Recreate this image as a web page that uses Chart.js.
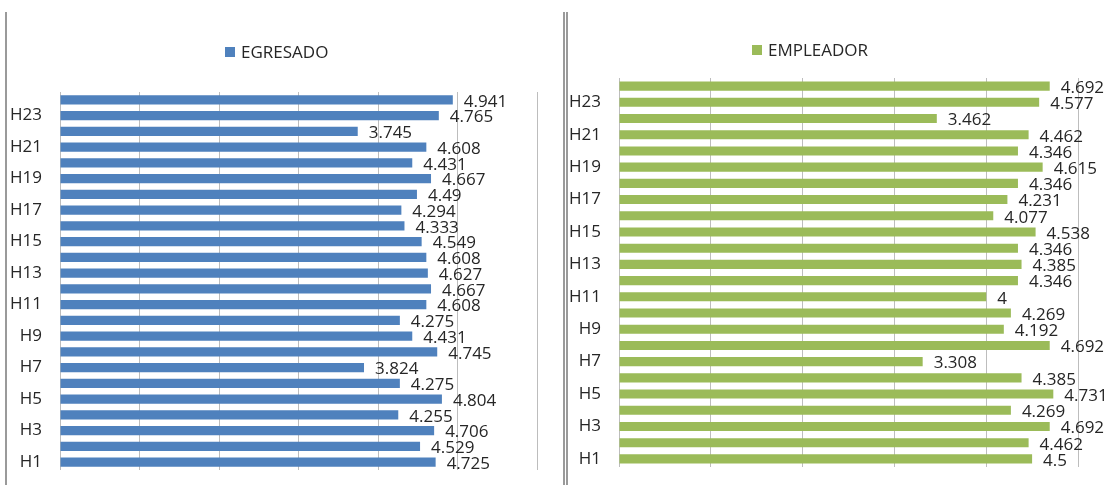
<!DOCTYPE html>
<html>
<head>
<meta charset="utf-8">
<script src="https://cdn.jsdelivr.net/npm/chart.js@4.4.0/dist/chart.umd.min.js"></script>
<style>
  body { margin: 0; background: #fff; width: 1113px; height: 485px; overflow: hidden; position: relative; }
  .frame { position: absolute; top: 12px; bottom: 0; width: 2px; background: #9a9a9a; }
  #egresadoChart { position: absolute; left: 0; top: 0; }
  #empleadorChart { position: absolute; left: 568px; top: 0; }
</style>
</head>
<body>
<div class="frame" style="left:5px"></div>
<div class="frame" style="left:563px"></div>
<div class="frame" style="left:566px"></div>
<canvas id="egresadoChart" width="552" height="485"></canvas>
<canvas id="empleadorChart" width="545" height="485"></canvas>
<script>
const labels = ['H1', 'H2', 'H3', 'H4', 'H5', 'H6', 'H7', 'H8', 'H9', 'H10', 'H11', 'H12',
                'H13', 'H14', 'H15', 'H16', 'H17', 'H18', 'H19', 'H20', 'H21', 'H22', 'H23', 'H24'];

const egresado = [4.725, 4.529, 4.706, 4.255, 4.804, 4.275, 3.824, 4.745, 4.431, 4.275, 4.608, 4.667,
                  4.627, 4.608, 4.549, 4.333, 4.294, 4.49, 4.667, 4.431, 4.608, 3.745, 4.765, 4.941];

const empleador = [4.5, 4.462, 4.692, 4.269, 4.731, 4.385, 3.308, 4.692, 4.192, 4.269, 4, 4.346,
                   4.385, 4.346, 4.538, 4.077, 4.231, 4.346, 4.615, 4.346, 4.462, 3.462, 4.577, 4.692];

const FONT = '"Open Sans", Lato, sans-serif';
const TEXT = '#262626';

// value next to each bar
const valueLabels = {
    id: 'valueLabels',
    afterDatasetsDraw(chart) {
        const ctx = chart.ctx;
        ctx.save();
        ctx.font = '17px ' + FONT;
        ctx.fillStyle = TEXT;
        ctx.textAlign = 'left';
        ctx.textBaseline = 'middle';
        chart.data.datasets.forEach((ds, i) => {
            chart.getDatasetMeta(i).data.forEach((bar, j) => {
                ctx.fillText(String(ds.data[j]), bar.x + 11, bar.y + 2);
            });
        });
        ctx.restore();
    }
};

// small legend above the plot
const topLegend = {
    id: 'topLegend',
    afterDraw(chart, args, opts) {
        const ctx = chart.ctx;
        const ds = chart.data.datasets[0];
        const x = chart.chartArea.left + opts.dx;
        const y = opts.y;
        ctx.save();
        ctx.fillStyle = ds.backgroundColor;
        ctx.fillRect(x, y - 5, 10, 10);
        ctx.font = '17px ' + FONT;
        ctx.fillStyle = TEXT;
        ctx.textBaseline = 'middle';
        ctx.fillText(ds.label, x + 16, y + 1);
        ctx.restore();
    }
};

function makeChart(id, name, values, color, xMax, yWidth, pad, legendDx, legendY, barPct) {
    return new Chart(document.getElementById(id), {
        type: 'bar',
        data: {
            labels: labels,
            datasets: [{
                label: name,
                data: values,
                backgroundColor: color,
                categoryPercentage: 1,
                barPercentage: barPct
            }]
        },
        options: {
            indexAxis: 'y',
            responsive: false,
            animation: false,
            layout: { padding: pad },
            plugins: {
                legend: { display: false },
                tooltip: { enabled: false },
                topLegend: { dx: legendDx, y: legendY }
            },
            scales: {
                x: {
                    min: 0,
                    max: xMax,
                    ticks: { display: false, stepSize: 1 },
                    grid: { color: '#bdbdbd', drawTicks: false },
                    border: { display: false }
                },
                y: {
                    reverse: true,
                    grid: { display: false, drawTicks: false },
                    border: { display: false },
                    afterFit: (scale) => {
                        scale.width = yWidth;
                        scale.paddingTop = 0;
                        scale.paddingBottom = 0;
                    },
                    ticks: {
                        autoSkip: false,
                        padding: 18,
                        color: TEXT,
                        font: { family: FONT, size: 17 },
                        callback: function (val, i) { return i % 2 === 0 ? this.getLabelForValue(val) : ''; }
                    }
                }
            }
        },
        plugins: [valueLabels, topLegend]
    });
}

makeChart('egresadoChart', 'EGRESADO', egresado, '#4F81BD', 6, 60,
    { top: 92, bottom: 15, left: 0, right: 15 }, 165, 52, 0.58);
makeChart('empleadorChart', 'EMPLEADOR', empleador, '#9BBB59', 5, 51,
    { top: 78, bottom: 18, left: 0, right: 35 }, 133, 50, 0.56);
</script>
</body>
</html>
